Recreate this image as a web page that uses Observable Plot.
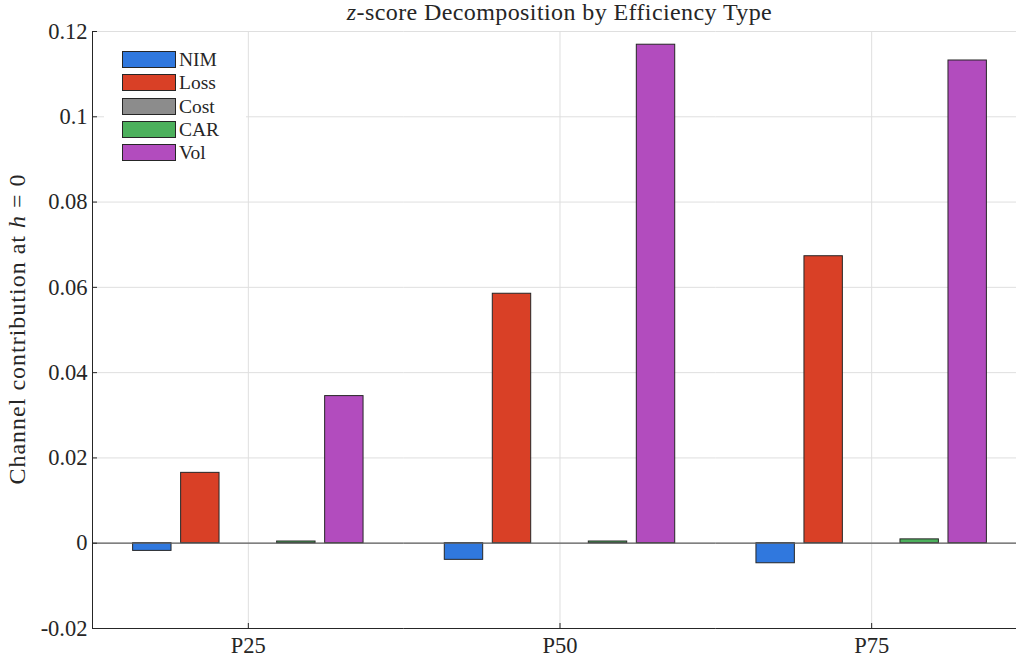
<!DOCTYPE html>
<html>
<head>
<meta charset="utf-8">
<script src="https://cdn.jsdelivr.net/npm/d3@7"></script>
<script src="https://cdn.jsdelivr.net/npm/@observablehq/plot@0.6"></script>
<style>
  body { margin: 0; background: #fff; }
  #wrap { position: relative; width: 1016px; height: 662px; overflow: hidden;
          font-family: "Liberation Serif", "Times New Roman", serif; color: #262626; background: #fff; }
  #title { position: absolute; left: 259.5px; width: 600px; top: 0px; text-align: center;
           font-size: 24px; line-height: 24px; letter-spacing: 0.4px; white-space: nowrap; }
  #ylabel { position: absolute; left: 17px; top: 329px; transform: translate(-50%, -50%) rotate(-90deg);
            font-size: 24px; letter-spacing: 1px; white-space: nowrap; }
  #legend { position: absolute; left: 104px; top: 40px; width: 142px; height: 127px; background: #fff; }
  .item { position: absolute; left: 18px; height: 17px; display: flex; align-items: center; }
  .sw { width: 54px; height: 17px; border: 1px solid #262626; box-sizing: border-box; }
  .lab { margin-left: 3px; font-size: 19.5px; line-height: 17px; }
  #chart { position: absolute; left: 0; top: 0; width: 1027px; }
  #chart svg { max-width: none !important; }
</style>
</head>
<body>
<div id="wrap">
  <div id="chart"></div>
  <div id="title"><i>z</i>-score Decomposition by Efficiency Type</div>
  <div id="ylabel">Channel contribution at <i>h</i> = 0</div>
  <div id="legend"></div>
</div>
<script>
// ---- data ----
const categories = ["P25", "P50", "P75"];
const seriesNames = ["NIM", "Loss", "Cost", "CAR", "Vol"];
const seriesColors = ["#3078DE", "#D94026", "#8C8C8C", "#4CB05C", "#B24CBE"];
const NIM  = [-0.0018, -0.0039, -0.0047];
const Loss = [0.0165, 0.0585, 0.0673];
const Cost = [0.0, 0.0, 0.0];
const CAR  = [0.0004, 0.0004, 0.0009];
const Vol  = [0.0345, 0.1169, 0.1132];
const yTicks = [-0.02, 0, 0.02, 0.04, 0.06, 0.08, 0.1, 0.12];
const yTickLabels = ["-0.02", "0", "0.02", "0.04", "0.06", "0.08", "0.1", "0.12"];

const seriesValues = {NIM, Loss, Cost, CAR, Vol};
const rows = [];
categories.forEach((c, i) => seriesNames.forEach(s => rows.push({cat: c, series: s, value: seriesValues[s][i]})));

const font = '"Liberation Serif", "Times New Roman", serif';
const plot = Plot.plot({
  width: 1027,
  height: 662,
  marginTop: 31,
  marginBottom: 34,
  marginLeft: 92,
  marginRight: 0,
  style: {fontFamily: font, fontSize: "22.5px", color: "#262626", background: "transparent", maxWidth: "none"},
  fx: {domain: categories, paddingInner: 0, paddingOuter: 0, round: false, label: null, axis: null},
  x: {domain: seriesNames, paddingInner: 0.2, paddingOuter: 0.846, round: false, axis: null},
  y: {domain: [-0.02, 0.12], label: null, axis: null},
  color: {domain: seriesNames, range: seriesColors},
  marks: [
    Plot.gridY(yTicks, {stroke: "#dfdfdf", strokeOpacity: 1}),
    Plot.gridFx({stroke: "#dfdfdf", strokeOpacity: 1}),
    Plot.barY(rows, {fx: "cat", x: "series", y: "value", fill: "series", stroke: "#262626", strokeWidth: 1}),
    Plot.ruleY([0], {stroke: "#5e5e5e", strokeWidth: 1.2}),
    Plot.ruleY([-0.02], {stroke: "#262626", strokeWidth: 1}),
    Plot.frame({anchor: "left", facetAnchor: "left", stroke: "#262626"}),
    Plot.axisY(yTicks, {anchor: "left", tickSize: -5, tickPadding: 10, stroke: "#262626", fontSize: 22.5,
      tickFormat: d => yTickLabels[yTicks.indexOf(d)]}),
    Plot.axisFx({anchor: "bottom", tickSize: -5, tickPadding: 14, stroke: "#262626", fontSize: 22.5})
  ]
});
document.getElementById("chart").appendChild(plot);

// legend
const legend = document.getElementById("legend");
seriesNames.forEach((s, i) => {
  const item = document.createElement("div");
  item.className = "item";
  item.style.top = (11 + i * 23.3) + "px";
  const sw = document.createElement("div");
  sw.className = "sw";
  sw.style.background = seriesColors[i];
  const lab = document.createElement("span");
  lab.className = "lab";
  lab.textContent = s;
  item.appendChild(sw);
  item.appendChild(lab);
  legend.appendChild(item);
});
</script>
</body>
</html>
